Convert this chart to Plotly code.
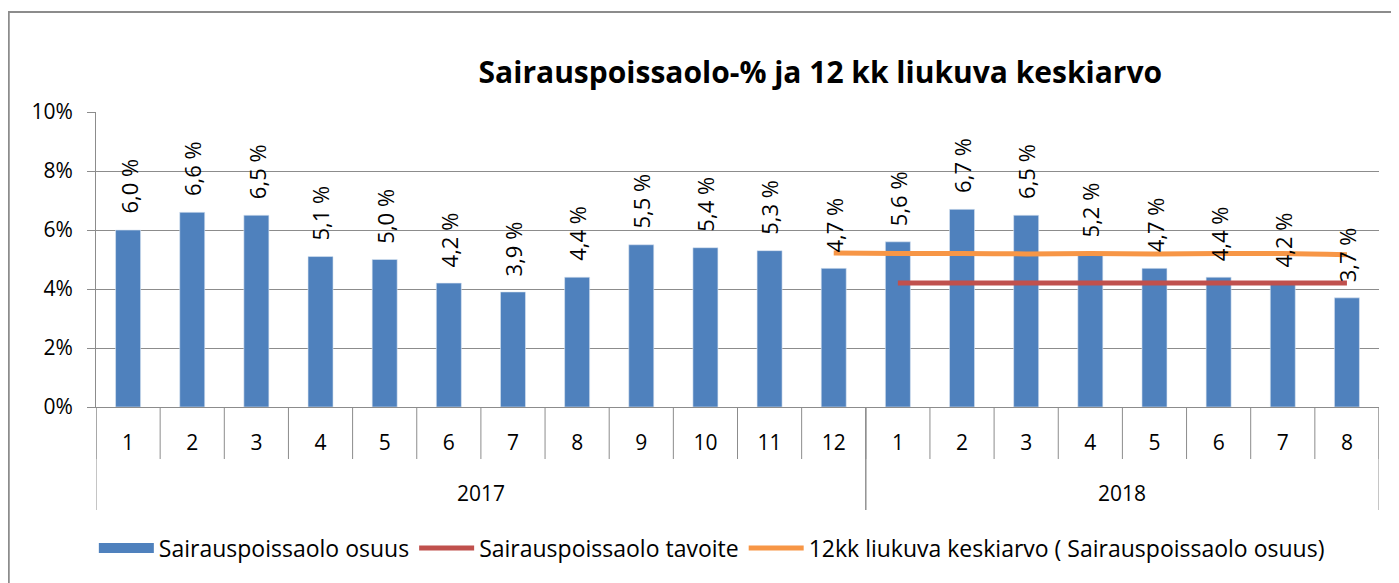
import plotly.graph_objects as go

# Data
years = ["2017"] * 12 + ["2018"] * 8
months = [str(m) for m in range(1, 13)] + [str(m) for m in range(1, 9)]
osuus = [6.0, 6.6, 6.5, 5.1, 5.0, 4.2, 3.9, 4.4, 5.5, 5.4, 5.3, 4.7,
         5.6, 6.7, 6.5, 5.2, 4.7, 4.4, 4.2, 3.7]
tavoite = [None] * 12 + [4.2] * 8
liukuva = [None] * 11 + [5.22, 5.2, 5.2, 5.19, 5.2, 5.19, 5.2, 5.2, 5.16]

FONT = "Open Sans, Liberation Sans, Arial"
GRID = "#8c8c8c"
BLUE = "#4F81BD"
idx = list(range(len(months)))

fig = go.Figure()

fig.add_trace(go.Bar(
    x=idx, y=osuus,
    name="Sairauspoissaolo osuus",
    marker=dict(color=BLUE, line=dict(color="#dce6f2", width=0.6)),
    width=0.39,
    showlegend=False,
))

# legend entry for the bars (wide flat swatch like the original)
fig.add_trace(go.Scatter(
    x=[None], y=[None], mode="lines",
    name="Sairauspoissaolo osuus",
    line=dict(color=BLUE, width=14),
))

fig.add_trace(go.Scatter(
    x=idx, y=tavoite,
    name="Sairauspoissaolo tavoite",
    mode="lines",
    line=dict(color="#C0504D", width=5),
))

fig.add_trace(go.Scatter(
    x=idx, y=liukuva,
    name="12kk liukuva keskiarvo ( Sairauspoissaolo osuus)",
    mode="lines",
    line=dict(color="#F79646", width=5, shape="spline"),
))

# rotated data labels above the bars
for i, v in zip(idx, osuus):
    fig.add_annotation(
        x=i, y=v, text=f"{v:.1f} %".replace(".", ","),
        textangle=-90, showarrow=False,
        xanchor="center", yanchor="bottom", yshift=14,
        font=dict(size=22, family=FONT, color="black"),
    )

# month boundary lines under the axis
for b in [i - 0.5 for i in idx] + [idx[-1] + 0.5]:
    fig.add_shape(type="line", xref="x", yref="paper",
                  x0=b, x1=b, y0=0, y1=-52 / 295,
                  line=dict(color=GRID, width=1))

# year groups: dividers and labels
for yr in sorted(set(years)):
    pos = [i for i, y in zip(idx, years) if y == yr]
    fig.add_annotation(
        x=sum(pos) / len(pos), y=-86 / 295, xref="x", yref="paper",
        text=yr, showarrow=False, yanchor="middle",
        font=dict(size=21, family=FONT, color="black"),
    )
    for b in (pos[0] - 0.5, pos[-1] + 0.5):
        fig.add_shape(type="line", xref="x", yref="paper",
                      x0=b, x1=b, y0=0, y1=-103 / 295,
                      line=dict(color=GRID, width=1))

# outer chart border
fig.add_shape(type="rect", xref="paper", yref="paper",
              x0=-0.068, x1=1.03, y0=-0.7, y1=1.339,
              line=dict(color="#8c8c8c", width=2), layer="below")

fig.update_layout(
    width=1391, height=575,
    margin=dict(l=88, r=20, t=104, b=176),
    bargap=0.61,
    plot_bgcolor="white",
    paper_bgcolor="white",
    font=dict(family=FONT, size=21, color="black"),
    title=dict(text="<b>Sairauspoissaolo-% ja 12 kk liukuva keskiarvo</b>",
               x=0.584, xanchor="center", y=0.887, yanchor="middle",
               font=dict(size=30, family=FONT, color="black")),
    xaxis=dict(
        range=[-0.5, idx[-1] + 0.5],
        tickvals=idx, ticktext=months,
        ticks="", ticklabelstandoff=17,
        showline=True, linecolor=GRID, linewidth=1,
        showgrid=False, zeroline=False,
        tickfont=dict(size=21, family=FONT),
    ),
    yaxis=dict(
        range=[0, 10], dtick=2, ticksuffix="%",
        showgrid=True, gridcolor=GRID, gridwidth=1,
        showline=True, linecolor=GRID, linewidth=1,
        ticks="outside", ticklen=8, tickcolor=GRID,
        ticklabelstandoff=10,
        zeroline=False,
        tickfont=dict(size=21, family=FONT),
    ),
    showlegend=True,
    legend=dict(orientation="h", x=0.48, xanchor="center",
                y=-0.478, yanchor="middle",
                itemwidth=55,
                font=dict(size=23, family=FONT),
                traceorder="normal"),
)

fig.write_html("out.html")
